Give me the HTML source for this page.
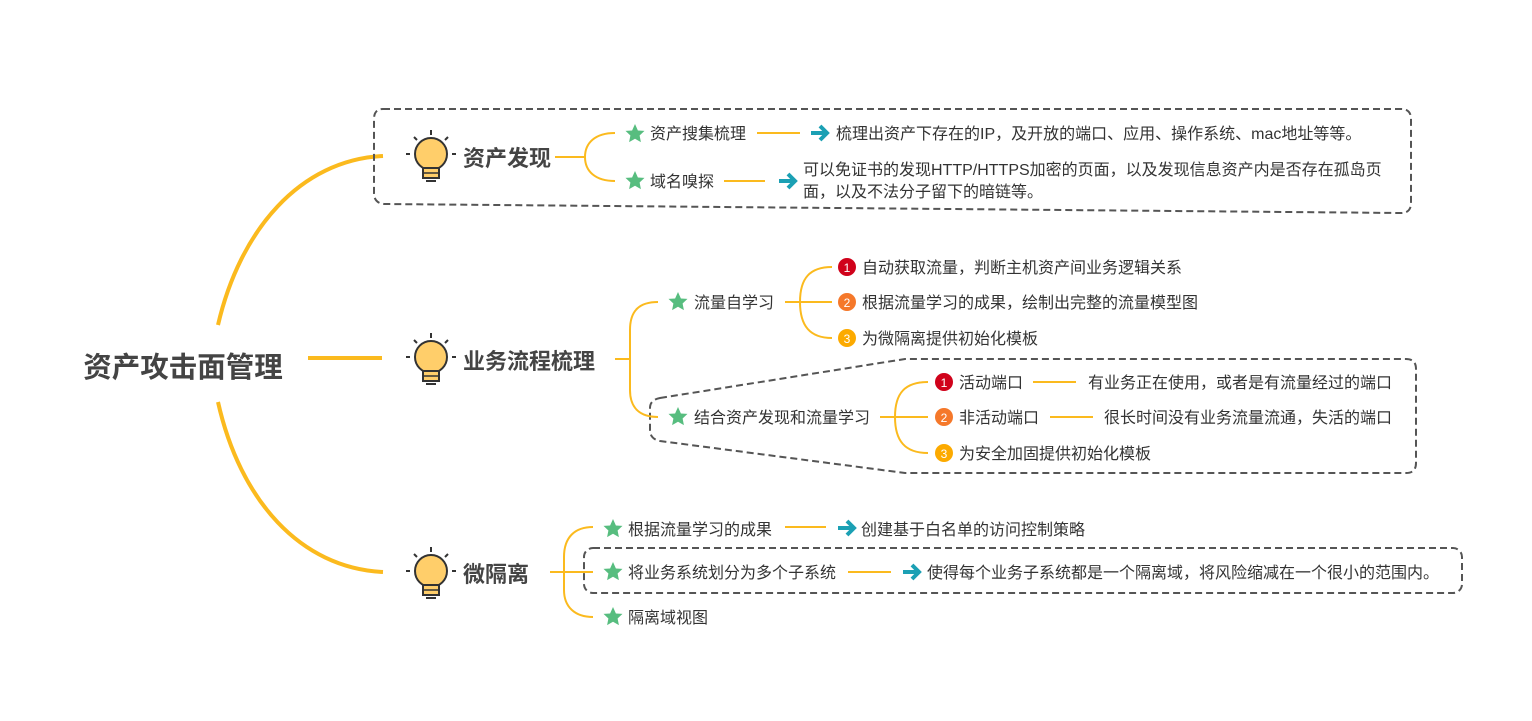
<!DOCTYPE html>
<html><head><meta charset="utf-8"><style>
html,body{margin:0;padding:0;background:#fff}
svg{display:block}
text{font-family:"Liberation Sans","Noto Sans CJK SC",sans-serif;fill:#333}
.t{font-size:16px}
.b{font-size:22px;font-weight:bold;fill:#444}
.o{stroke:#FBBA1E;fill:none;stroke-width:2}
.d{stroke:#555;fill:none;stroke-width:2;stroke-dasharray:7 4}
.n{font-size:12px;fill:#fff;text-anchor:middle}
</style></head><body>
<svg width="1532" height="721" viewBox="0 0 1532 721">
<defs>
<g id="bulb">
<circle cx="0" cy="-3" r="16" fill="#FFCE6A" stroke="#333" stroke-width="2"/>
<rect x="-8" y="11" width="16" height="10" fill="#FFCE6A" stroke="#333" stroke-width="2"/>
<line x1="-8" y1="16" x2="8" y2="16" stroke="#333" stroke-width="1.5"/>
<line x1="-5" y1="24" x2="5" y2="24" stroke="#333" stroke-width="2"/>
<line x1="0" y1="-27" x2="0" y2="-22" stroke="#333" stroke-width="2"/>
<line x1="-17" y1="-20" x2="-14" y2="-17" stroke="#333" stroke-width="2"/>
<line x1="17" y1="-20" x2="14" y2="-17" stroke="#333" stroke-width="2"/>
<line x1="-25" y1="-3" x2="-21" y2="-3" stroke="#333" stroke-width="2"/>
<line x1="25" y1="-3" x2="21" y2="-3" stroke="#333" stroke-width="2"/>
</g>
<polygon id="star" points="0,-10 2.9,-3.5 9.5,-3.1 4.6,1.5 5.9,8.1 0,4.7 -5.9,8.1 -4.6,1.5 -9.5,-3.1 -2.9,-3.5" fill="#57BD7F"/>
<path id="arr" d="M-9,0 H6 M0,-7 L7,0 L0,7" stroke="#1BA0B4" stroke-width="4" fill="none"/>
</defs>

<text x="183" y="377" style="font-size:28.5px;font-weight:bold;fill:#444" text-anchor="middle">资产攻击面管理</text>
<g stroke="#FBBA1E" stroke-width="4" fill="none">
<path d="M308,358 H382"/>
<path d="M218,325 C240,230 300,160 383,156"/>
<path d="M218,402 C240,500 300,568 383,572"/>
</g>

<path class="d" d="M383,109 H1401 Q1411,109 1411,119 V203 Q1411,213 1401,213 L384,204 Q374,203 374,193 V119 Q374,109 383,109 Z"/>
<path class="d" d="M660,398 L905,359 H1406 Q1416,359 1416,369 V463 Q1416,473 1406,473 H905 L660,441 Q650,439 650,430 V408 Q650,400 660,398 Z"/>
<rect class="d" x="584" y="548" width="878" height="45" rx="9"/>

<use href="#bulb" x="431" y="157"/>
<text class="b" x="463" y="166">资产发现</text>
<path class="o" d="M555,157 H585 M615,133 C595,133 585,143 585,157 C585,171 595,181 615,181"/>
<use href="#star" x="635" y="134"/><text class="t" x="650" y="139">资产搜集梳理</text>
<path class="o" d="M757,133 H800"/><use href="#arr" x="820" y="133"/>
<text class="t" x="836" y="139">梳理出资产下存在的IP，及开放的端口、应用、操作系统、mac地址等等。</text>
<use href="#star" x="635" y="181"/><text class="t" x="650" y="187">域名嗅探</text>
<path class="o" d="M724,181 H765"/><use href="#arr" x="788" y="181"/>
<text class="t" x="803" y="175">可以免证书的发现HTTP/HTTPS加密的页面，以及发现信息资产内是否存在孤岛页</text>
<text class="t" x="803" y="197">面，以及不法分子留下的暗链等。</text>

<use href="#bulb" x="431" y="360"/>
<text class="b" x="463" y="369">业务流程梳理</text>
<path class="o" d="M615,359 H630 M658,302 C640,302 630,310 630,330 V390 C630,408 640,417 658,417"/>
<use href="#star" x="678" y="302"/><text class="t" x="694" y="308">流量自学习</text>
<path class="o" d="M785,302 H832 M832,267 C810,267 800,278 800,302 C800,326 810,338 832,338"/>
<circle cx="847" cy="267" r="9" fill="#D0021B"/><text class="n" x="847" y="272">1</text>
<text class="t" x="862" y="273">自动获取流量，判断主机资产间业务逻辑关系</text>
<circle cx="847" cy="302" r="9" fill="#F5782A"/><text class="n" x="847" y="307">2</text>
<text class="t" x="862" y="308">根据流量学习的成果，绘制出完整的流量模型图</text>
<circle cx="847" cy="338" r="9" fill="#FCAA00"/><text class="n" x="847" y="343">3</text>
<text class="t" x="862" y="344">为微隔离提供初始化模板</text>

<use href="#star" x="678" y="417"/><text class="t" x="694" y="423">结合资产发现和流量学习</text>
<path class="o" d="M880,417 H928 M928,382 C905,382 895,393 895,417 C895,441 905,453 928,453"/>
<circle cx="944" cy="382" r="9" fill="#D0021B"/><text class="n" x="944" y="387">1</text>
<text class="t" x="959" y="388">活动端口</text>
<path class="o" d="M1033,382 H1076"/><text class="t" x="1088" y="388">有业务正在使用，或者是有流量经过的端口</text>
<circle cx="944" cy="417" r="9" fill="#F5782A"/><text class="n" x="944" y="422">2</text>
<text class="t" x="959" y="423">非活动端口</text>
<path class="o" d="M1050,417 H1093"/><text class="t" x="1104" y="423">很长时间没有业务流量流通，失活的端口</text>
<circle cx="944" cy="453" r="9" fill="#FCAA00"/><text class="n" x="944" y="458">3</text>
<text class="t" x="959" y="459">为安全加固提供初始化模板</text>

<use href="#bulb" x="431" y="574"/>
<text class="b" x="463" y="582">微隔离</text>
<path class="o" d="M550,572 H593 M593,527 C575,527 564,537 564,557 V590 C564,607 575,617 593,617"/>
<use href="#star" x="613" y="529"/><text class="t" x="628" y="535">根据流量学习的成果</text>
<path class="o" d="M785,527 H826"/><use href="#arr" x="847" y="528"/>
<text class="t" x="861" y="535">创建基于白名单的访问控制策略</text>
<use href="#star" x="613" y="572"/><text class="t" x="628" y="578">将业务系统划分为多个子系统</text>
<path class="o" d="M848,572 H891"/><use href="#arr" x="912" y="572"/>
<text class="t" x="927" y="578">使得每个业务子系统都是一个隔离域，将风险缩减在一个很小的范围内。</text>
<use href="#star" x="613" y="617"/><text class="t" x="628" y="623">隔离域视图</text>
</svg>
</body></html>
